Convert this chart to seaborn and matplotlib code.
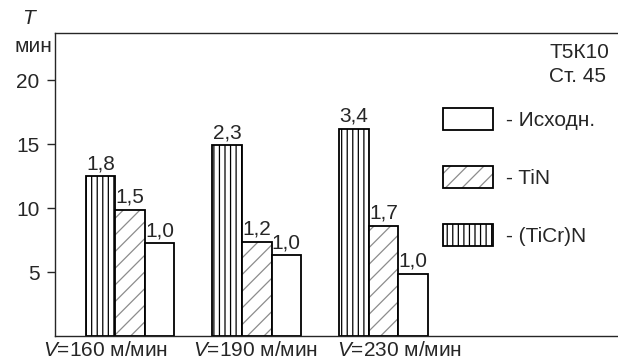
import matplotlib
matplotlib.use("Agg")
import matplotlib.pyplot as plt
import matplotlib.colors as mcolors
from matplotlib.patches import Patch
import pandas as pd
import seaborn as sns

# Data
speeds = ["160", "190", "230"]
coatings = ["(TiCr)N", "TiN", "Исходн."]
life_ticrn = [12.5, 14.9, 16.2]
life_tin = [9.9, 7.4, 8.65]
life_base = [7.3, 6.35, 4.9]
ratio_ticrn = ["1,8", "2,3", "3,4"]
ratio_tin = ["1,5", "1,2", "1,7"]
ratio_base = ["1,0", "1,0", "1,0"]
speed_labels = [r"$V$=160 м/мин", r"$V$=190 м/мин", r"$V$=230 м/мин"]
yticks = [5, 10, 15, 20]

df = pd.DataFrame({
    "speed": speeds * 3,
    "coating": [c for c in coatings for _ in speeds],
    "life": life_ticrn + life_tin + life_base,
})

sns.set_style("ticks")
plt.rcParams["font.family"] = ["Liberation Sans", "DejaVu Sans"]
plt.rcParams["mathtext.fontset"] = "custom"
plt.rcParams["mathtext.it"] = "Liberation Sans:italic"
plt.rcParams["mathtext.rm"] = "Liberation Sans"
plt.rcParams["hatch.linewidth"] = 0.9

FS = 15
fig = plt.figure(figsize=(6.18, 3.62), dpi=100)
ax = fig.add_axes([55 / 618, 1 - 336.4 / 362, (618 - 55) / 618, (336.4 - 33) / 362])

sns.barplot(data=df, x="speed", y="life", hue="coating", order=speeds,
            hue_order=coatings, palette=["white"] * 3, saturation=1,
            width=0.7, edgecolor="black", linewidth=1.3, legend=False,
            errorbar=None, ax=ax)

hatches = ["|||", "//", ""]
hatch_colors = ["black", "0.55", "black"]
ratios = [ratio_ticrn, ratio_tin, ratio_base]


def set_hatch(patch, hatch, color):
    patch.set_hatch(hatch)
    if hasattr(patch, "set_hatchcolor"):
        patch.set_hatchcolor(color)
    else:
        patch._hatch_color = mcolors.to_rgba(color)


for cont, h, hc, r in zip(ax.containers, hatches, hatch_colors, ratios):
    for bar in cont:
        set_hatch(bar, h, hc)
    ax.bar_label(cont, labels=r, padding=2, fontsize=FS)

ax.set_xlim(-0.592, 3.85)
ax.set_ylim(0, 23.67)
ax.set_yticks(yticks)
ax.set_xticks([])
ax.set_xlabel("")
ax.set_ylabel("")
ax.tick_params(axis="y", length=6, width=1, pad=5, labelsize=FS)
for side in ["left", "bottom", "top"]:
    ax.spines[side].set_linewidth(1.0)
ax.spines["right"].set_visible(False)

# speed labels under the groups (left edge relative to group centre)
label_shift = [-0.686, -0.503, -0.367]
trans = ax.get_xaxis_transform()
for i, (lab, s) in enumerate(zip(speed_labels, label_shift)):
    ax.text(i + s, -0.045, lab, transform=trans, ha="left", va="center",
            fontsize=FS, clip_on=False)

# axis title
fig.text(28 / 618, 1 - 19 / 362, "T", style="italic", ha="center",
         va="center", fontsize=FS)
fig.text(52 / 618, 1 - 46 / 362, "мин", ha="right", va="center", fontsize=FS)

# material notes
fig.text(609 / 618, 1 - 52 / 362, "Т5К10", ha="right", va="center", fontsize=FS)
fig.text(606 / 618, 1 - 76 / 362, "Ст. 45", ha="right", va="center", fontsize=FS)

# legend
handles = []
for h, hc in zip(hatches[::-1], hatch_colors[::-1]):
    p = Patch(facecolor="white", edgecolor="black", linewidth=1.3)
    set_hatch(p, h, hc)
    handles.append(p)
leg = ax.legend(handles, ["- " + c for c in coatings[::-1]], loc="upper left",
                bbox_to_anchor=(443 / 618, 1 - 108 / 362),
                bbox_transform=fig.transFigure, frameon=False, borderpad=0,
                borderaxespad=0, handlelength=50 / 20.8, handleheight=26 / 20.8,
                labelspacing=36 / 20.8, handletextpad=0.6, fontsize=FS)
for p, hc in zip(leg.get_patches(), hatch_colors[::-1]):
    if hasattr(p, "set_hatchcolor"):
        p.set_hatchcolor(hc)
    else:
        p._hatch_color = mcolors.to_rgba(hc)

fig.savefig("out.png", dpi=100)
